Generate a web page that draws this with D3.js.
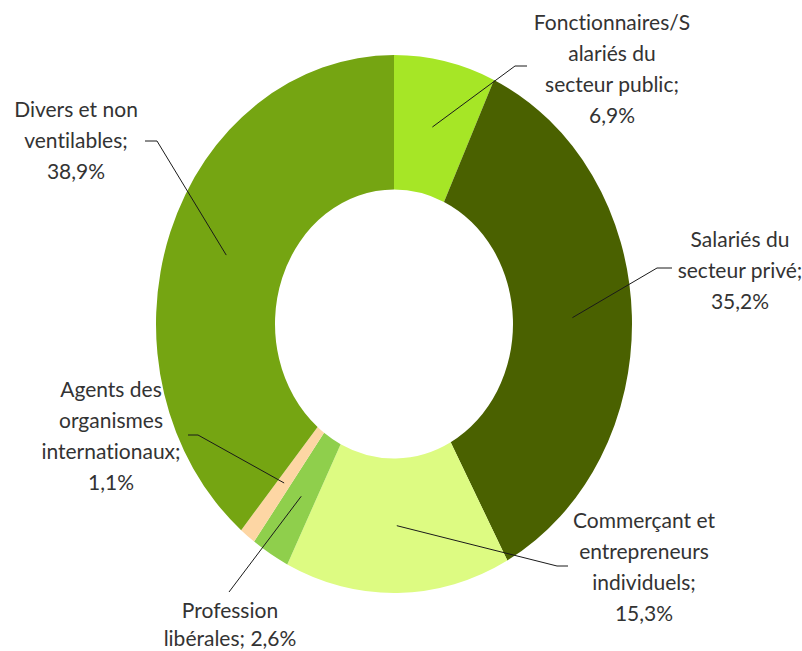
<!DOCTYPE html>
<html>
<head>
<meta charset="utf-8">
<script src="https://cdn.jsdelivr.net/npm/d3@7"></script>
<style>
  body { margin: 0; background: #fff; }
  svg { display: block; }
</style>
</head>
<body>
<div id="chart"></div>
<script>
// categories and shares (percent), clockwise from 12 o'clock
const categories = [
  "Fonctionnaires/Salariés du secteur public",
  "Salariés du secteur privé",
  "Commerçant et entrepreneurs individuels",
  "Profession libérales",
  "Agents des organismes internationaux",
  "Divers et non ventilables"
];
const values = [6.9, 35.2, 15.3, 2.6, 1.1, 38.9];
const colors = ["#a6e626", "#4a6100", "#ddfb82", "#8fcf4c", "#fdd6a4", "#75a512"];

// label text lines as in the original (Excel wraps)
const labelLines = [
  ["Fonctionnaires/S", "alariés du", "secteur public;", "6,9%"],
  ["Salariés du", "secteur privé;", "35,2%"],
  ["Commerçant et", "entrepreneurs", "individuels;", "15,3%"],
  ["Profession", "libérales; 2,6%"],
  ["Agents des", "organismes", "internationaux;", "1,1%"],
  ["Divers et non", "ventilables;", "38,9%"]
];

// label layout: text centre x, first baseline, leader bend and end
const labelLayout = [
  { x: 612, y: 30, bend: [515, 66], end: [527, 66] },
  { x: 740, y: 247, bend: [657, 268], end: [672, 268] },
  { x: 644, y: 528, bend: [557, 566], end: [568, 566] },
  { x: 230, y: 618, bend: [229, 592], end: [229, 592], lh: 28 },
  { x: 111, y: 397, bend: [198, 435], end: [188, 435] },
  { x: 76, y: 117, bend: [157, 141], end: [145, 141] }
];

const width = 802, height = 651;
const cx = 394, cy = 324;
const outerR = 238, innerR = 119;
const yStretch = 1.13; // the plot area is taller than wide
const lineH = 31;

const svg = d3.select("#chart").append("svg")
  .attr("width", width)
  .attr("height", height);

const pie = d3.pie().sort(null).value(d => d)(values);
const arc = d3.arc().innerRadius(innerR).outerRadius(outerR);

const g = svg.append("g")
  .attr("transform", `translate(${cx},${cy}) scale(1,${yStretch})`);

g.selectAll("path.slice")
  .data(pie)
  .join("path")
  .attr("class", "slice")
  .attr("d", arc)
  .attr("fill", (d, i) => colors[i]);

// leader lines from slice centroid to label
const leaders = svg.append("g");
pie.forEach((d, i) => {
  const c = arc.centroid(d);
  const p0 = [cx + c[0], cy + c[1] * yStretch];
  const L = labelLayout[i];
  leaders.append("polyline")
    .attr("points", [p0, L.bend, L.end].map(p => p.join(",")).join(" "))
    .attr("fill", "none")
    .attr("stroke", "#1a1a1a")
    .attr("stroke-width", 1);
});

const labels = svg.append("g")
  .attr("font-family", "Lato, 'Open Sans', sans-serif")
  .attr("font-size", 21)
  .attr("fill", "#333")
  .attr("text-anchor", "middle")
  .style("font-variant-ligatures", "none");

labelLines.forEach((lines, i) => {
  const L = labelLayout[i];
  const t = labels.append("text");
  lines.forEach((s, j) => {
    t.append("tspan")
      .attr("x", L.x)
      .attr("y", L.y + j * (L.lh || lineH))
      .text(s);
  });
});
</script>
</body>
</html>
